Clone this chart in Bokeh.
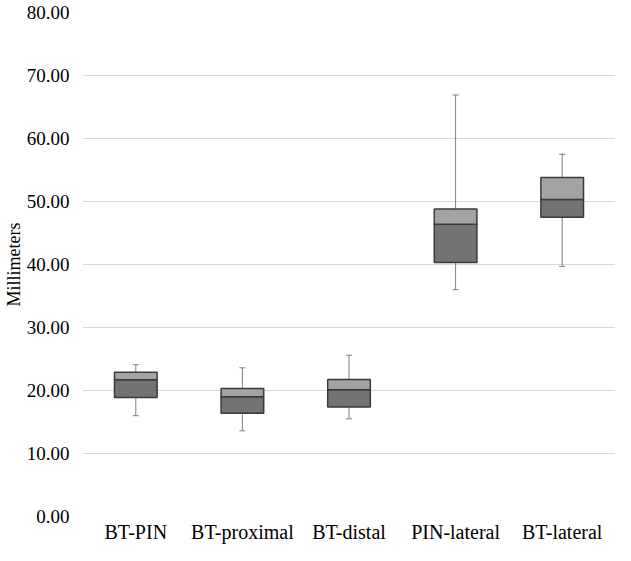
from bokeh.plotting import figure
from bokeh.models import ColumnDataSource, Range1d, NumeralTickFormatter
from bokeh.embed import file_html
from bokeh.resources import INLINE

categories = ["BT-PIN", "BT-proximal", "BT-distal", "PIN-lateral", "BT-lateral"]
whisker_low = [16.0, 13.6, 15.5, 36.0, 39.7]
q1 = [18.9, 16.4, 17.4, 40.3, 47.5]
median = [21.7, 19.0, 20.1, 46.4, 50.3]
q3 = [22.9, 20.3, 21.75, 48.8, 53.8]
whisker_high = [24.1, 23.6, 25.6, 66.9, 57.5]

src = ColumnDataSource(dict(cat=categories, lo=whisker_low, q1=q1, med=median,
                            q3=q3, hi=whisker_high))

p = figure(x_range=categories, y_range=Range1d(0, 80), width=615, height=545,
           output_backend="svg", toolbar_location=None,
           min_border_left=75, min_border_right=0, min_border_top=12, min_border_bottom=20)
p.outline_line_color = None
p.background_fill_color = "white"
p.border_fill_color = "white"

p.segment(x0="cat", y0="lo", x1="cat", y1="hi", source=src, line_color="#7f7f7f", line_width=1)
p.scatter(x="cat", y="lo", source=src, marker="dash", size=6, line_color="#7f7f7f", line_width=1)
p.scatter(x="cat", y="hi", source=src, marker="dash", size=6, line_color="#7f7f7f", line_width=1)

p.vbar(x="cat", bottom="q1", top="med", width=0.4, source=src,
       fill_color="#737373", line_color="#3a3a3a", line_width=1.5)
p.vbar(x="cat", bottom="med", top="q3", width=0.4, source=src,
       fill_color="#a3a3a3", line_color="#3a3a3a", line_width=1.5)

p.xgrid.grid_line_color = None
p.ygrid.grid_line_color = "#d9d9d9"
p.yaxis.ticker = [0, 10, 20, 30, 40, 50, 60, 70, 80]
p.yaxis.formatter = NumeralTickFormatter(format="0.00")

for ax in (p.xaxis[0], p.yaxis[0]):
    ax.axis_line_color = None
    ax.major_tick_line_color = None
    ax.minor_tick_line_color = None
    ax.major_tick_out = 0
    ax.major_tick_in = 0
    ax.major_label_text_font = "Liberation Serif"
    ax.major_label_text_font_style = "normal"
    ax.major_label_text_color = "#000000"

p.xaxis.major_label_text_font_size = "20px"
p.yaxis.major_label_text_font_size = "19px"
p.yaxis.major_label_standoff = 13
p.xaxis.major_label_standoff = 4
p.yaxis.axis_label = "Millimeters"
p.yaxis.axis_label_text_font = "Liberation Serif"
p.yaxis.axis_label_text_font_size = "18px"
p.yaxis.axis_label_text_font_style = "normal"
p.yaxis.axis_label_text_color = "#000000"
p.yaxis.axis_label_standoff = 0

open("out.html", "w").write(file_html(p, INLINE))
